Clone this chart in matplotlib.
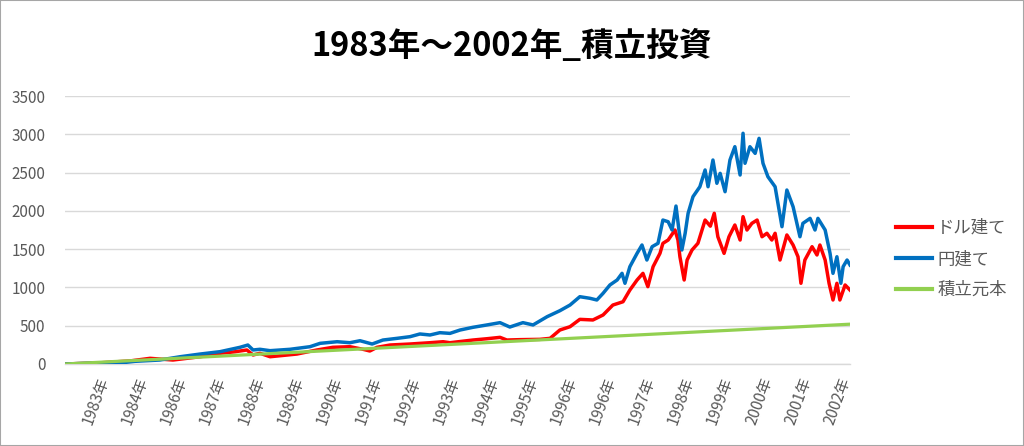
import matplotlib
matplotlib.use("Agg")
import matplotlib.pyplot as plt
from matplotlib.patches import Rectangle

plt.rcParams['font.family'] = ['Noto Sans CJK JP', 'DejaVu Sans']

# time axis in months since start (Jan 1983)
usd_t = [0, 10.7, 19.9, 26.0, 33.0, 41.3, 47.4, 52.0, 55.6, 57.5, 59.6, 62.7, 70.9, 77.0,
         81.9, 87.1, 91.1, 93.2, 95.4, 99.4, 105.5, 111.6, 115.6, 117.7, 124.7, 129.0,
         133.0, 135.1, 139.1, 145.2, 148.3, 151.3, 154.4, 157.4, 161.4, 164.5, 167.5,
         170.6, 172.7, 174.9, 176.7, 178.2, 179.8, 181.9, 182.8, 184.4, 186.5, 187.4,
         188.0, 189.3, 190.2, 191.7, 193.5, 195.7, 197.3, 198.5, 199.6, 201.5, 203.0,
         204.8, 206.4, 207.3, 208.5, 210.0, 211.6, 213.1, 214.6, 216.1, 217.1, 218.6,
         220.7, 222.6, 224.1, 225.0, 226.2, 228.4, 229.9, 230.8, 232.4, 233.6, 234.8,
         236.0, 236.9, 238.5, 240.0]
usd_v = [0, 15, 40, 74, 52, 95, 140, 160, 183, 118, 140, 95, 130, 183,
         218, 226, 192, 170, 218, 248, 261, 278, 291, 278, 313, 330,
         348, 313, 318, 322, 335, 444, 487, 583, 575, 640, 770,
         813, 966, 1097, 1184, 1010, 1271, 1445, 1576, 1619, 1750, 1619,
         1401, 1097, 1358, 1489, 1576, 1880, 1800, 1968, 1662, 1445, 1662,
         1815, 1619, 1924, 1750, 1837, 1880, 1662, 1707, 1619, 1707, 1358,
         1685, 1554, 1401, 1054, 1358, 1532, 1424, 1554, 1358, 1054, 836,
         1054, 836, 1032, 966]

jpy_t = [0, 6.1, 10.7, 15.9, 21.4, 29.0, 35.2, 41.3, 47.4, 53.5, 55.9, 57.5, 59.6, 62.7,
         68.8, 74.9, 78.0, 83.2, 87.1, 90.2, 93.9, 97.2, 101.5, 105.5, 108.5, 111.6,
         114.6, 117.7, 120.8, 124.7, 129.0, 133.0, 136.0, 140.0, 143.1, 147.4, 151.3,
         154.4, 157.4, 160.5, 162.6, 164.5, 166.6, 168.8, 170.3, 171.2, 172.7, 174.9,
         176.4, 177.9, 179.5, 181.3, 182.8, 184.4, 185.6, 186.8, 187.7, 188.6, 189.6,
         190.5, 192.0, 194.1, 195.7, 196.6, 198.1, 199.3, 200.3, 201.8, 203.3, 204.8,
         206.4, 207.3, 207.9, 209.4, 211.0, 212.2, 213.4, 214.9, 217.1, 219.2, 220.7,
         222.6, 224.7, 225.6, 227.8, 229.3, 230.2, 232.4, 233.9, 234.8, 236.0, 237.2,
         237.9, 239.1, 240.0]
jpy_v = [0, 8, 15, 9, 35, 52, 95, 130, 161, 218, 248, 183, 192, 174,
         192, 226, 270, 291, 278, 304, 261, 313, 335, 357, 392, 379,
         409, 400, 444, 479, 510, 540, 483, 540, 510, 618, 696,
         770, 879, 858, 836, 923, 1032, 1097, 1184, 1054, 1271, 1445,
         1554, 1358, 1532, 1576, 1880, 1858, 1750, 2063, 1750, 1489, 1707,
         1968, 2185, 2315, 2534, 2315, 2664, 2360, 2490, 2250, 2664, 2838,
         2468, 3013, 2621, 2838, 2751, 2947, 2621, 2446, 2315, 1793, 2272,
         2054, 1662, 1837, 1902, 1750, 1902, 1750, 1445, 1184, 1401, 1054,
         1271, 1358, 1293]

principal_t = [0, 24, 48, 72, 96, 120, 144, 168, 192, 216, 240]
principal_v = [0, 52, 104, 156, 208, 260, 312, 364, 416, 468, 520]

tick_pos = [11.9 + 11.94 * k for k in range(20)]
tick_labels = ['1983年', '1984年', '1986年', '1987年', '1988年', '1989年', '1990年',
               '1991年', '1992年', '1993年', '1994年', '1995年', '1996年', '1996年',
               '1997年', '1998年', '1999年', '2000年', '2001年', '2002年']

series_names = ['ドル建て', '円建て', '積立元本']
colors = ['#FF0000', '#0070C0', '#92D050']

fig = plt.figure(figsize=(10.24, 4.46), dpi=100)
ax = fig.add_axes([65 / 1024, 1 - 364 / 446, 785 / 1024, 268 / 446])

ax.plot(usd_t, usd_v, color=colors[0], lw=2.5, label=series_names[0], zorder=3)
ax.plot(jpy_t, jpy_v, color=colors[1], lw=2.5, label=series_names[1], zorder=4)
ax.plot(principal_t, principal_v, color=colors[2], lw=2.3, label=series_names[2], zorder=5)

ax.set_xlim(0, 240)
ax.set_ylim(0, 3500)
ax.set_yticks(range(0, 3501, 500))
ax.yaxis.grid(True, color='#D9D9D9', lw=1)
ax.set_axisbelow(True)
for s in ['top', 'right', 'left']:
    ax.spines[s].set_visible(False)
ax.spines['bottom'].set_color('#D9D9D9')
ax.spines['bottom'].set_linewidth(1)
ax.tick_params(axis='y', length=0, labelsize=11, labelcolor='#595959', pad=14)
ax.set_xticks(tick_pos)
ax.set_xticklabels(tick_labels, rotation=70, ha='right', va='center',
                   rotation_mode='anchor', fontsize=11, color='#595959')
ax.tick_params(axis='x', length=0, pad=10)

fig.text(0.5, 1 - 46 / 446, '1983年～2002年_積立投資', ha='center', va='center',
         fontsize=23.5, fontweight='bold', color='black')

leg = fig.legend(loc='center left', bbox_to_anchor=(880 / 1024, 1 - 259 / 446),
                 frameon=False, fontsize=12.5, handlelength=2.1, handletextpad=0.3,
                 labelspacing=0.75, labelcolor='#595959')
for line in leg.get_lines():
    line.set_linewidth(3)

fig.patches.append(Rectangle((0, 0), 1, 1, transform=fig.transFigure, fill=False,
                             edgecolor='#A6A6A6', lw=1.5))

fig.savefig('out.png', dpi=100)
